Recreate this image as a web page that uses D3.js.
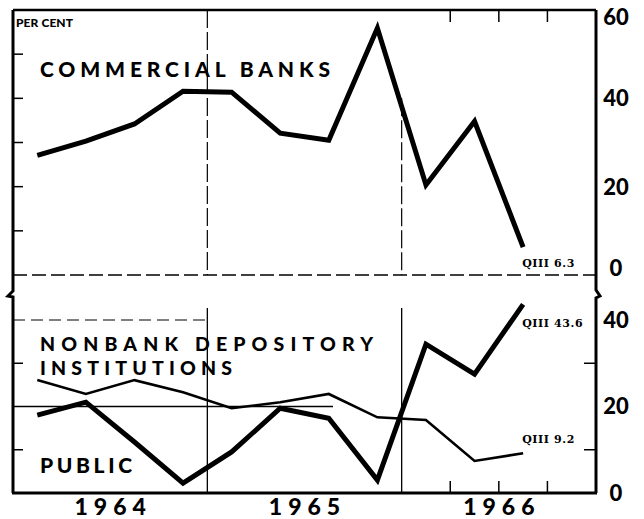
<!DOCTYPE html>
<html>
<head>
<meta charset="utf-8">
<script src="https://cdn.jsdelivr.net/npm/d3@7"></script>
<style>
  body { margin: 0; background: #fff; }
  svg { display: block; }
  .lbl { font-family: Lato, "DejaVu Sans", sans-serif; font-weight: 900; fill: #000; }
  .note { font-family: "DejaVu Serif", serif; font-weight: bold; font-size: 11px; fill: #000; }
</style>
</head>
<body>
<svg width="644" height="519"></svg>
<script>
const quarters = ["64Q1","64Q2","64Q3","64Q4","65Q1","65Q2","65Q3","65Q4","66Q1","66Q2","66Q3","66Q4"];
const years = ["1964", "1965", "1966"];

// per cent, quarterly, 1964 QI - 1966 QIII
const commercialBanks = [27.1, 30.3, 34.2, 41.6, 41.4, 32.1, 30.5, 55.9, 20.4, 34.8, 6.3];
const nonbankDepository = [18.0, 21.0, 11.8, 2.3, 9.5, 19.6, 17.3, 3.0, 34.4, 27.5, 43.6];
const publicSector = [26.1, 22.9, 26.1, 23.3, 19.6, 21.0, 22.9, 17.5, 16.9, 7.4, 9.2];

const upperTicks = [0, 20, 40, 60];
const lowerTicks = [0, 20, 40];

const left = 13, right = 596;
const svg = d3.select("svg");

const x = d3.scaleBand().domain(quarters).range([left, right]);
const xYear = d3.scaleBand().domain(years).range([left, right]);
const yUp = d3.scaleLinear().domain([0, 60]).range([275, 10]);
const yLo = d3.scaleLinear().domain([0, 40]).range([493, 320]);
const cx = (d, i) => x(quarters[i]) + x.bandwidth() / 2;

// grid lines
const grid = svg.append("g").attr("stroke", "#000");
grid.append("line")
  .attr("x1", left).attr("x2", right).attr("y1", yUp(0)).attr("y2", yUp(0))
  .attr("stroke-width", 1.5).attr("stroke-dasharray", "14 5");
grid.append("line")
  .attr("x1", left).attr("x2", 210).attr("y1", yLo(40)).attr("y2", yLo(40))
  .attr("stroke-width", 1.2).attr("stroke-dasharray", "12 6");
grid.append("line")
  .attr("x1", left).attr("x2", 333).attr("y1", yLo(20)).attr("y2", yLo(20))
  .attr("stroke-width", 1.3);

// year boundaries
["1965", "1966"].forEach(yr => {
  const xx = xYear(yr);
  grid.append("line")
    .attr("x1", xx).attr("x2", xx).attr("y1", yr === "1965" ? yUp(60) : yUp(40)).attr("y2", yUp(0))
    .attr("stroke-width", 1.2).attr("stroke-dasharray", "18 4");
  grid.append("line")
    .attr("x1", xx).attr("x2", xx).attr("y1", yLo(40) - 12).attr("y2", yLo(0))
    .attr("stroke-width", 1.3);
});

// frame with breaks
const frame = svg.append("g").attr("fill", "none").attr("stroke", "#000").attr("stroke-width", 3);
frame.append("line").attr("x1", left).attr("x2", right).attr("y1", yUp(60)).attr("y2", yUp(60)).attr("stroke-width", 2.5);
frame.append("line").attr("x1", left - 1).attr("x2", right + 1).attr("y1", yLo(0)).attr("y2", yLo(0));
frame.append("path")
  .attr("d", `M${left},${yUp(60)}V291L${left - 5},296L${left},297V${yLo(0)}`);
frame.append("path")
  .attr("d", `M${right},${yUp(60)}V290L${right + 4},296L${right},298V${yLo(0)}`);

// small ticks
const tk = svg.append("g").attr("stroke", "#000").attr("stroke-width", 1.5);
[10, 20, 30, 40, 50].forEach(v => {
  tk.append("line").attr("x1", left).attr("x2", left + 10).attr("y1", yUp(v)).attr("y2", yUp(v));
});
[10, 30].forEach(v => {
  tk.append("line").attr("x1", left).attr("x2", left + 10).attr("y1", yLo(v)).attr("y2", yLo(v));
  tk.append("line").attr("x1", right).attr("x2", right - 12).attr("y1", yLo(v)).attr("y2", yLo(v));
});
quarters.slice(9).forEach(q => {
  tk.append("line").attr("x1", x(q)).attr("x2", x(q)).attr("y1", yUp(60)).attr("y2", yUp(60) + 12);
  tk.append("line").attr("x1", x(q)).attr("x2", x(q)).attr("y1", yLo(0)).attr("y2", yLo(0) - 12);
});

// series
const line = yScale => d3.line().x(cx).y(d => yScale(d));
svg.append("path").datum(commercialBanks)
  .attr("fill", "none").attr("stroke", "#000").attr("stroke-width", 5).attr("stroke-linejoin", "miter")
  .attr("d", line(yUp));
svg.append("path").datum(publicSector)
  .attr("fill", "none").attr("stroke", "#000").attr("stroke-width", 2.6)
  .attr("d", line(yLo));
svg.append("path").datum(nonbankDepository)
  .attr("fill", "none").attr("stroke", "#000").attr("stroke-width", 5).attr("stroke-linejoin", "miter")
  .attr("d", line(yLo));

// right axis labels
const rlab = svg.append("g").attr("class", "lbl").attr("font-size", 22).attr("text-anchor", "middle");
upperTicks.forEach(v => {
  const shift = v === 60 ? 7 : v === 0 ? -7 : 0;
  rlab.append("text").attr("x", 616).attr("y", yUp(v) + shift).attr("dy", "0.36em").text(v);
});
lowerTicks.forEach(v => {
  rlab.append("text").attr("x", 616).attr("y", yLo(v)).attr("dy", "0.36em").text(v);
});

// year labels
svg.append("g").attr("class", "lbl").attr("font-size", 23).attr("text-anchor", "middle")
  .selectAll("text").data(years).join("text")
  .attr("x", d => xYear(d) + xYear.bandwidth() / 2 + 3)
  .attr("y", 515)
  .attr("letter-spacing", 6)
  .text(d => d);

// series labels
const lab = svg.append("g").attr("class", "lbl");
lab.append("text").attr("x", 16).attr("y", 27).attr("font-size", 12).attr("font-weight", 900)
  .attr("textLength", 57).text("PER CENT");
lab.append("text").attr("x", 40).attr("y", 77).attr("font-size", 21)
  .attr("textLength", 290).attr("lengthAdjust", "spacing").text("COMMERCIAL BANKS");
lab.append("text").attr("x", 40).attr("y", 351).attr("font-size", 19.5)
  .attr("textLength", 333).attr("lengthAdjust", "spacing").text("NONBANK DEPOSITORY");
lab.append("text").attr("x", 40).attr("y", 375).attr("font-size", 19.5)
  .attr("textLength", 192).attr("lengthAdjust", "spacing").text("INSTITUTIONS");
lab.append("text").attr("x", 40).attr("y", 473).attr("font-size", 21)
  .attr("textLength", 92).attr("lengthAdjust", "spacing").text("PUBLIC");

// end-point notes
const last = commercialBanks.length - 1;
const lx = cx(null, last) - 1;
const notes = svg.append("g").attr("class", "note").attr("letter-spacing", 0.6);
notes.append("text").attr("x", lx).attr("y", yUp(commercialBanks[last]) + 20)
  .text("QIII  6.3");
notes.append("text").attr("x", lx).attr("y", yLo(nonbankDepository[last]) + 23)
  .text("QIII  43.6");
notes.append("text").attr("x", lx).attr("y", yLo(publicSector[last]) - 10)
  .text("QIII  9.2");
</script>
</body>
</html>
